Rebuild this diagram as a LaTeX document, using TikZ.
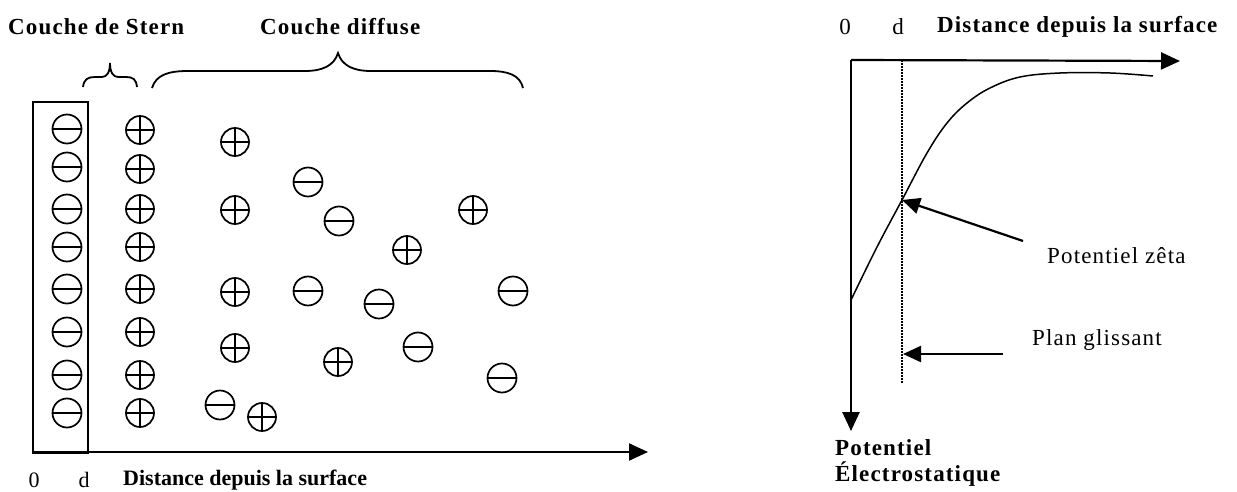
\documentclass[tikz,border=0pt]{standalone}
\usepackage{fontspec}
\setmainfont{Liberation Serif}
\usetikzlibrary{arrows.meta}
\newcommand{\lblfont}{\fontsize{23}{26}\selectfont\addfontfeature{LetterSpace=5}}
\newcommand{\lblfontsmall}{\fontsize{22}{25}\selectfont}
\begin{document}
\begin{tikzpicture}[x=1pt,y=-1pt,
  ionbase/.style={circle, draw, line width=1.7pt, minimum size=29pt, inner sep=0pt},
  negion/.style={ionbase, path picture={\draw[line width=1.7pt] (path picture bounding box.west) -- (path picture bounding box.east);}},
  posion/.style={ionbase, minimum size=28pt, path picture={\draw[line width=2.3pt] (path picture bounding box.west) -- (path picture bounding box.east) (path picture bounding box.north) -- (path picture bounding box.south);}},
  txt/.style={inner sep=0pt, anchor=west, font=\lblfont},
  btxt/.style={txt, font=\lblfont\bfseries},
  axisarrow/.style={line width=2.2pt, -{Triangle[length=19pt,width=17pt]}},
  pointer/.style={line width=2.2pt, -{Triangle[length=18pt,width=16pt]}},
  bracestyle/.style={line width=1.8pt}
]
\useasboundingbox (0,0) rectangle (1237,492);
\fill[white] (0,0) rectangle (1237,492);

% ---- left panel titles
\node[btxt] (stern) at (8,27) {Couche de Stern};
\node[btxt] (diffuse) at (260,27) {Couche diffuse};

% braces
\draw[bracestyle] (83,87) .. controls (84,79) and (88,77) .. (95,77) -- (102,77)
  .. controls (107,77) and (110,72) .. (110,63)
  .. controls (110,72) and (113,77) .. (118,77) -- (126,77)
  .. controls (133,77) and (136,79) .. (137,87);
\draw[bracestyle] (152,88) .. controls (156,75) and (168,71) .. (188,71) -- (305,71)
  .. controls (322,71) and (334,66) .. (338,53)
  .. controls (342,66) and (354,71) .. (371,71) -- (490,71)
  .. controls (508,71) and (520,75) .. (523,88);

% surface box
\node[draw, line width=1.9pt, minimum width=55pt, minimum height=351pt, inner sep=0pt, anchor=north west] (surf) at (32,101) {};

% left axis
\coordinate (lo) at (32,452);
\coordinate (le) at (648,452);
\draw[axisarrow] (lo) -- (le);
\node[inner sep=0pt, font=\lblfontsmall] (l0) at (34,480) {0};
\node[inner sep=0pt, font=\lblfontsmall] (ld) at (84,480) {d};
\node[inner sep=0pt, anchor=west, font=\lblfontsmall\bfseries] (ldist) at (123,480) {Distance depuis la surface};

% negative ions in the surface
\foreach \i/\y in {1/129,2/167,3/209,4/247,5/289,6/332,7/375,8/413}
  \node[negion] (s\i) at (67,\y) {};
% positive Stern layer
\foreach \i/\y in {1/130,2/169,3/209,4/247,5/289,6/332,7/375,8/413}
  \node[posion] (p\i) at (140,\y) {};

% diffuse layer
\node[posion] (d1) at (235,142) {};
\node[negion] (d2) at (308,182) {};
\node[posion] (d3) at (235,210) {};
\node[negion] (d4) at (339,221) {};
\node[posion] (d5) at (473,210) {};
\node[posion] (d6) at (407,250) {};
\node[posion] (d7) at (235,292) {};
\node[negion] (d8) at (308,291) {};
\node[negion] (d9) at (379,304) {};
\node[negion] (d10) at (513,291) {};
\node[posion] (d11) at (235,348) {};
\node[posion] (d12) at (338,362) {};
\node[negion] (d13) at (418,347) {};
\node[negion] (d14) at (502,378) {};
\node[negion] (d15) at (220,405) {};
\node[posion] (d16) at (262,417) {};

% ---- right panel
\node[inner sep=0pt, font=\lblfont] (r0) at (845,27) {0};
\node[inner sep=0pt, font=\lblfont] (rd) at (898,27) {d};
\node[btxt] (rdist) at (937,27) {Distance depuis la surface};

\coordinate (ro) at (851,60);
\coordinate (rx) at (1180,61);
\coordinate (ry) at (851,431);
\draw[axisarrow] (ro) -- (rx);
\draw[axisarrow, line width=2.7pt] (ro) -- (ry);

\coordinate (dtop) at (902,60);
\coordinate (dbot) at (902,383);
\draw[line width=1.6pt, dash pattern=on 1.6pt off 1.4pt] (dtop) -- (dbot);

\draw[line width=1.5pt] plot[smooth, tension=0.6] coordinates {(851,300) (877,247) (902,200) (927,153) (947,123) (967,103) (990,88) (1020,77) (1060,73) (1110,73) (1153,76)};

\coordinate (zeta) at (902,200);
\coordinate (zs) at (1023,241);
\draw[pointer] (zs) -- (zeta);
\node[txt] (zetalbl) at (1047,256) {Potentiel zêta};

\coordinate (plan) at (903,354);
\coordinate (ps) at (1003,354);
\draw[pointer] (ps) -- (plan);
\node[txt] (planlbl) at (1032,340) {Plan glissant};

\node[btxt] (pot1) at (835,448) {Potentiel};
\node[btxt] (pot2) at (835,474) {Électrostatique};
\end{tikzpicture}
\end{document}
